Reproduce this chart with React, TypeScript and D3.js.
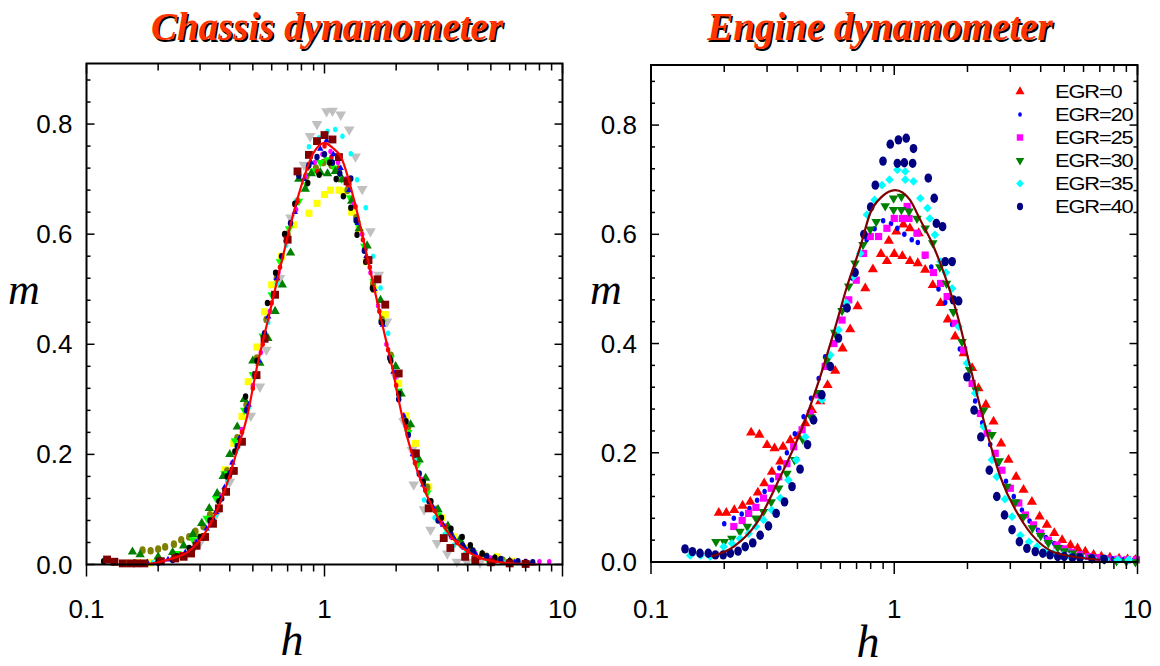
import React from 'react';
import * as d3 from 'd3';

type Pt = [number, number];

// axis ticks and labels
const xTickValues = [0.1, 1, 10];
const xTickLabels = ['0.1', '1', '10'];
const yTickValues = [0, 0.2, 0.4, 0.6, 0.8];
const yTickLabels = ['0.0', '0.2', '0.4', '0.6', '0.8'];
const panelTitles = ['Chassis dynamometer', 'Engine dynamometer'];
const egrLabels = ['EGR=0', 'EGR=20', 'EGR=25', 'EGR=30', 'EGR=35', 'EGR=40'];

// ---- chassis dynamometer: [h, m]
const chassisGray: Pt[] = [[0.3,0.04],[0.35,0.09],[0.4,0.15],[0.44,0.22],[0.49,0.27],[0.535,0.323],[0.57,0.39],[0.65,0.52],[0.72,0.63],[0.82,0.726],[0.87,0.778],[0.93,0.8],[1.02,0.823],[1.08,0.824],[1.17,0.817],[1.27,0.79],[1.35,0.741],[1.44,0.682],[1.56,0.605],[1.69,0.526],[1.83,0.441],[2.0,0.34],[2.15,0.26],[2.33,0.208],[2.37,0.145],[2.62,0.1],[2.79,0.063],[2.97,0.039],[3.28,0.02],[3.6,0.005],[3.97,0.005],[4.5,0.003]];
const chassisYellow: Pt[] = [[0.147,0.002],[0.165,0.003],[0.185,0.003],[0.3,0.05],[0.34,0.09],[0.383,0.172],[0.416,0.22],[0.45,0.269],[0.478,0.332],[0.52,0.395],[0.56,0.459],[0.6,0.508],[0.66,0.56],[0.74,0.617],[0.86,0.638],[0.93,0.656],[1.0,0.672],[1.06,0.68],[1.15,0.68],[1.2,0.678],[1.3,0.64],[1.39,0.608],[1.5,0.55],[1.62,0.5],[1.8,0.454],[2.05,0.329],[2.2,0.27],[2.41,0.22],[2.74,0.141],[3.1,0.085],[3.5,0.05],[4.0,0.03],[4.6,0.018],[5.3,0.014],[6.2,0.006]];
const chassisOlive: Pt[] = [[0.172,0.026],[0.186,0.025],[0.2,0.028],[0.214,0.032],[0.233,0.037],[0.25,0.045],[0.27,0.05],[0.287,0.06],[0.31,0.069],[0.33,0.09],[0.36,0.125],[0.39,0.17],[0.43,0.23],[0.47,0.29],[0.52,0.375],[0.57,0.445],[0.63,0.52],[0.7,0.6],[0.77,0.66],[0.84,0.705],[0.92,0.72],[0.99,0.73],[1.07,0.725],[1.15,0.715],[1.25,0.68],[1.36,0.63],[1.48,0.575],[1.6,0.51],[1.74,0.445],[1.9,0.38],[2.07,0.31],[2.25,0.25],[2.45,0.19],[2.7,0.14],[2.95,0.1],[3.3,0.065],[3.7,0.04],[4.2,0.025],[4.8,0.015],[5.6,0.008]];
const chassisLime: Pt[] = [[0.2,0.008],[0.24,0.02],[0.28,0.045],[0.32,0.084],[0.35,0.12],[0.38,0.165],[0.42,0.225],[0.46,0.28],[0.5,0.345],[0.55,0.415],[0.6,0.49],[0.65,0.55],[0.71,0.61],[0.78,0.66],[0.84,0.69],[0.9,0.715],[0.96,0.73],[1.03,0.735],[1.1,0.72],[1.18,0.7],[1.28,0.666],[1.37,0.62],[1.47,0.578],[1.61,0.514],[1.75,0.44],[1.9,0.375],[2.05,0.315],[2.25,0.24],[2.45,0.18],[2.7,0.13],[3.0,0.09],[3.3,0.06],[3.7,0.038],[4.2,0.022],[4.8,0.012],[5.5,0.007]];
const chassisGreen: Pt[] = [[0.156,0.023],[0.168,0.018],[0.2,0.014],[0.23,0.022],[0.256,0.034],[0.28,0.055],[0.305,0.075],[0.328,0.102],[0.354,0.129],[0.375,0.16],[0.4,0.2],[0.43,0.25],[0.46,0.3],[0.5,0.37],[0.535,0.366],[0.578,0.411],[0.62,0.46],[0.665,0.508],[0.72,0.566],[0.78,0.7],[0.83,0.682],[0.88,0.71],[0.96,0.712],[1.03,0.71],[1.11,0.714],[1.19,0.699],[1.3,0.66],[1.4,0.61],[1.51,0.579],[1.72,0.48],[1.99,0.36],[2.1,0.31],[2.3,0.254],[2.5,0.19],[2.66,0.157],[3.0,0.1],[3.3,0.07],[3.7,0.045],[4.1,0.03],[4.6,0.018],[5.2,0.01],[6.0,0.005]];
const chassisCyan: Pt[] = [[0.14,0.001],[0.19,0.003],[0.23,0.01],[0.27,0.025],[0.31,0.052],[0.35,0.09],[0.39,0.15],[0.43,0.21],[0.48,0.285],[0.53,0.37],[0.58,0.44],[0.63,0.51],[0.69,0.58],[0.76,0.66],[0.86,0.759],[0.95,0.775],[1.03,0.787],[1.11,0.79],[1.19,0.778],[1.29,0.746],[1.37,0.699],[1.49,0.648],[1.6,0.56],[1.72,0.502],[1.85,0.42],[2.0,0.345],[2.2,0.26],[2.4,0.19],[2.62,0.117],[2.9,0.085],[3.2,0.055],[3.5,0.035],[3.9,0.02],[4.4,0.012],[5.0,0.006],[5.8,0.004],[6.8,0.002]];
const chassisMagenta: Pt[] = [[0.17,0.002],[0.21,0.007],[0.25,0.018],[0.29,0.042],[0.33,0.075],[0.37,0.125],[0.41,0.185],[0.45,0.245],[0.5,0.325],[0.54,0.385],[0.59,0.46],[0.64,0.53],[0.7,0.59],[0.76,0.645],[0.83,0.705],[0.91,0.73],[0.98,0.745],[1.06,0.75],[1.14,0.73],[1.23,0.7],[1.33,0.655],[1.44,0.6],[1.56,0.53],[1.68,0.47],[1.82,0.4],[1.98,0.34],[2.15,0.27],[2.35,0.205],[2.55,0.155],[2.8,0.11],[3.1,0.075],[3.4,0.05],[3.8,0.032],[4.3,0.02],[5.0,0.012],[6.0,0.007],[7.0,0.006],[8.0,0.005],[8.8,0.005]];
const chassisRed: Pt[] = [[0.2,0.005],[0.25,0.018],[0.3,0.047],[0.35,0.095],[0.4,0.16],[0.45,0.24],[0.5,0.32],[0.55,0.4],[0.6,0.475],[0.65,0.54],[0.7,0.6],[0.77,0.66],[0.85,0.72],[0.93,0.714],[1.0,0.76],[1.07,0.74],[1.15,0.72],[1.25,0.69],[1.35,0.65],[1.45,0.59],[1.55,0.54],[1.7,0.46],[1.85,0.39],[2.0,0.325],[2.2,0.25],[2.4,0.185],[2.65,0.135],[2.9,0.098],[3.2,0.07],[3.6,0.04],[4.0,0.025],[4.5,0.013],[5.2,0.006],[6.0,0.003]];
const chassisBlue: Pt[] = [[0.15,0.002],[0.18,0.004],[0.22,0.009],[0.26,0.022],[0.29,0.04],[0.32,0.065],[0.35,0.095],[0.38,0.14],[0.41,0.185],[0.44,0.23],[0.48,0.29],[0.53,0.37],[0.58,0.45],[0.63,0.52],[0.69,0.59],[0.75,0.64],[0.82,0.7],[0.88,0.73],[0.96,0.755],[1.02,0.77],[1.09,0.745],[1.17,0.72],[1.27,0.68],[1.38,0.62],[1.5,0.56],[1.62,0.5],[1.76,0.435],[1.95,0.35],[2.15,0.27],[2.35,0.2],[2.6,0.145],[2.85,0.105],[3.15,0.072],[3.5,0.048],[3.9,0.03],[4.3,0.02],[4.8,0.012],[5.5,0.007],[6.3,0.004],[7.2,0.002]];
const chassisNavy: Pt[] = [[0.2,0.003],[0.23,0.008],[0.26,0.018],[0.28,0.028],[0.31,0.05],[0.34,0.08],[0.37,0.12],[0.4,0.165],[0.43,0.215],[0.47,0.28],[0.51,0.345],[0.56,0.42],[0.61,0.49],[0.66,0.56],[0.72,0.62],[0.78,0.706],[0.86,0.725],[0.93,0.74],[1.0,0.745],[1.08,0.73],[1.16,0.71],[1.29,0.701],[1.36,0.625],[1.47,0.57],[1.6,0.5],[1.73,0.44],[1.88,0.375],[2.05,0.3],[2.25,0.235],[2.5,0.165],[2.75,0.115],[3.0,0.08],[3.4,0.055],[3.8,0.035],[4.2,0.025],[4.8,0.015],[5.5,0.01],[6.5,0.006],[7.5,0.004]];
const chassisBlack: Pt[] = [[0.118,0.006],[0.13,0.004],[0.16,0.003],[0.2,0.006],[0.24,0.015],[0.27,0.03],[0.3,0.05],[0.33,0.08],[0.36,0.115],[0.39,0.16],[0.42,0.205],[0.466,0.305],[0.52,0.37],[0.576,0.475],[0.623,0.53],[0.68,0.6],[0.75,0.655],[0.85,0.693],[0.95,0.708],[1.05,0.73],[1.12,0.7],[1.2,0.669],[1.29,0.648],[1.37,0.599],[1.49,0.55],[1.59,0.502],[1.75,0.44],[1.9,0.37],[2.05,0.31],[2.2,0.26],[2.4,0.2],[2.6,0.15],[2.8,0.115],[3.1,0.085],[3.4,0.065],[3.79,0.05],[4.1,0.035],[4.6,0.02],[5.2,0.012],[6.0,0.006],[7.0,0.004]];
const chassisMaroon: Pt[] = [[0.122,0.009],[0.131,0.005],[0.142,0.002],[0.153,0.002],[0.163,0.002],[0.175,0.002],[0.205,0.006],[0.236,0.011],[0.256,0.014],[0.275,0.02],[0.29,0.034],[0.315,0.05],[0.34,0.074],[0.36,0.102],[0.386,0.132],[0.416,0.17],[0.45,0.223],[0.518,0.344],[0.56,0.41],[0.62,0.49],[0.7,0.59],[0.77,0.714],[0.86,0.744],[0.93,0.769],[1.0,0.78],[1.08,0.772],[1.15,0.74],[1.25,0.696],[1.53,0.553],[1.67,0.518],[1.8,0.472],[2.05,0.347],[2.42,0.202],[2.74,0.102],[3.17,0.048],[3.38,0.03],[3.9,0.014],[4.3,0.008],[5.0,0.004],[6.0,0.002],[7.0,0.001]];
const chassisFit: Pt[] = [[0.177,0.0],[0.2,0.004],[0.233,0.012],[0.265,0.022],[0.321,0.063],[0.377,0.129],[0.43,0.208],[0.473,0.269],[0.521,0.36],[0.583,0.45],[0.653,0.541],[0.768,0.663],[0.9,0.748],[0.95,0.761],[1.0,0.766],[1.08,0.757],[1.17,0.741],[1.33,0.663],[1.51,0.56],[1.72,0.45],[1.92,0.36],[2.12,0.269],[2.37,0.19],[2.88,0.099],[3.5,0.045],[4.38,0.014],[5.5,0.004],[7.8,0.0]];

// ---- engine dynamometer: [h, m]
const engineEgr0: Pt[] = [[0.19,0.09],[0.204,0.09],[0.22,0.095],[0.238,0.103],[0.256,0.11],[0.275,0.127],[0.292,0.144],[0.314,0.165],[0.34,0.184],[0.258,0.237],[0.279,0.233],[0.3,0.214],[0.322,0.208],[0.349,0.211],[0.374,0.223],[0.402,0.23],[0.431,0.254],[0.459,0.278],[0.496,0.294],[0.532,0.324],[0.572,0.35],[0.613,0.391],[0.659,0.426],[0.707,0.468],[0.76,0.501],[0.817,0.536],[0.882,0.564],[0.933,0.551],[1.0,0.564],[1.08,0.56],[1.16,0.551],[1.25,0.547],[1.34,0.535],[0.95,0.588],[1.02,0.605],[1.09,0.618],[1.16,0.611],[1.26,0.602],[1.44,0.507],[1.55,0.474],[1.66,0.444],[1.78,0.413],[1.93,0.382],[2.09,0.355],[2.22,0.318],[2.38,0.288],[2.56,0.257],[2.75,0.217],[2.95,0.187],[3.17,0.156],[3.4,0.132],[3.68,0.11],[3.96,0.083],[4.24,0.068],[4.55,0.053],[4.9,0.04],[5.3,0.031],[5.67,0.025],[6.1,0.019],[6.6,0.013],[7.1,0.01],[7.7,0.008],[8.4,0.006],[9.1,0.005],[9.8,0.004]];
const engineEgr20: Pt[] = [[0.2,0.07],[0.219,0.08],[0.236,0.088],[0.254,0.098],[0.273,0.113],[0.293,0.129],[0.314,0.15],[0.337,0.172],[0.362,0.2],[0.39,0.235],[0.424,0.266],[0.455,0.3],[0.489,0.336],[0.52,0.376],[0.565,0.42],[0.619,0.471],[0.67,0.52],[0.72,0.565],[0.77,0.59],[0.83,0.61],[0.9,0.625],[0.97,0.62],[1.03,0.611],[1.1,0.6],[1.18,0.59],[1.25,0.585],[1.33,0.56],[1.42,0.54],[1.52,0.5],[1.62,0.475],[1.73,0.435],[1.86,0.39],[2.0,0.34],[2.15,0.295],[2.3,0.255],[2.48,0.215],[2.67,0.18],[2.88,0.148],[3.1,0.12],[3.35,0.095],[3.6,0.075],[3.9,0.058],[4.2,0.045],[4.55,0.034],[4.9,0.026],[5.3,0.02],[5.8,0.015],[6.4,0.01],[7.1,0.008],[7.9,0.006],[8.8,0.005],[9.7,0.004]];
const engineEgr25: Pt[] = [[0.219,0.065],[0.237,0.076],[0.252,0.089],[0.27,0.1],[0.29,0.117],[0.312,0.135],[0.335,0.156],[0.362,0.18],[0.386,0.211],[0.418,0.242],[0.452,0.272],[0.486,0.306],[0.52,0.358],[0.565,0.4],[0.61,0.443],[0.65,0.48],[0.698,0.516],[0.748,0.565],[0.797,0.596],[0.862,0.596],[0.933,0.611],[1.0,0.629],[1.08,0.629],[1.15,0.629],[1.13,0.651],[1.24,0.602],[1.34,0.562],[1.45,0.53],[1.55,0.51],[1.65,0.486],[1.78,0.437],[1.93,0.388],[2.09,0.327],[2.26,0.272],[2.41,0.236],[2.6,0.199],[2.77,0.168],[3.0,0.135],[3.25,0.108],[3.46,0.086],[3.74,0.068],[4.0,0.053],[4.3,0.04],[4.67,0.031],[5.0,0.024],[5.4,0.018],[5.8,0.013],[6.3,0.01],[6.8,0.008],[7.5,0.006],[8.3,0.005],[9.1,0.004],[9.9,0.004]];
const engineEgr30: Pt[] = [[0.185,0.037],[0.2,0.037],[0.215,0.043],[0.232,0.056],[0.249,0.065],[0.27,0.08],[0.29,0.092],[0.312,0.11],[0.335,0.135],[0.362,0.162],[0.389,0.187],[0.42,0.225],[0.455,0.265],[0.49,0.31],[0.53,0.37],[0.57,0.42],[0.61,0.46],[0.65,0.505],[0.69,0.547],[0.744,0.581],[0.797,0.609],[0.843,0.623],[0.918,0.652],[0.994,0.666],[1.07,0.669],[0.994,0.645],[1.07,0.645],[1.15,0.642],[1.24,0.629],[1.34,0.611],[1.44,0.584],[1.54,0.54],[1.64,0.51],[1.75,0.458],[1.9,0.403],[2.04,0.352],[2.17,0.315],[2.33,0.278],[2.52,0.233],[2.7,0.185],[2.9,0.138],[3.15,0.11],[3.4,0.083],[3.7,0.062],[4.0,0.048],[4.3,0.035],[4.7,0.026],[5.0,0.02],[5.4,0.016],[5.8,0.011],[6.5,0.008],[7.3,0.005],[8.2,0.002],[9.0,0.001],[9.8,0.0]];
const engineEgr35: Pt[] = [[0.145,0.012],[0.16,0.012],[0.175,0.01],[0.199,0.028],[0.215,0.034],[0.232,0.043],[0.252,0.052],[0.27,0.065],[0.29,0.077],[0.314,0.095],[0.34,0.117],[0.367,0.15],[0.396,0.187],[0.431,0.229],[0.466,0.26],[0.504,0.297],[0.546,0.379],[0.59,0.425],[0.635,0.474],[0.68,0.523],[0.725,0.565],[0.772,0.636],[0.83,0.663],[0.89,0.69],[0.956,0.7],[1.03,0.718],[1.11,0.715],[1.11,0.7],[1.2,0.697],[1.28,0.666],[1.37,0.648],[1.4,0.629],[1.47,0.599],[1.55,0.55],[1.63,0.53],[1.73,0.501],[1.84,0.431],[1.99,0.364],[2.15,0.309],[2.33,0.248],[2.52,0.187],[2.64,0.156],[2.85,0.115],[3.05,0.083],[3.3,0.049],[3.58,0.037],[3.86,0.028],[4.2,0.019],[4.5,0.016],[4.9,0.012],[5.3,0.01],[5.9,0.008],[6.6,0.006],[7.4,0.005],[8.3,0.004],[9.2,0.004]];
const engineEgr40: Pt[] = [[0.138,0.024],[0.148,0.019],[0.159,0.016],[0.172,0.016],[0.184,0.013],[0.198,0.013],[0.212,0.016],[0.228,0.02],[0.244,0.028],[0.262,0.035],[0.281,0.049],[0.304,0.066],[0.327,0.089],[0.354,0.11],[0.38,0.138],[0.41,0.17],[0.44,0.215],[0.466,0.26],[0.504,0.306],[0.546,0.358],[0.59,0.41],[0.64,0.465],[0.69,0.53],[0.75,0.6],[0.8,0.65],[0.836,0.69],[0.899,0.734],[0.963,0.765],[1.04,0.773],[1.12,0.776],[1.2,0.757],[1.03,0.73],[1.1,0.731],[1.19,0.73],[1.38,0.703],[1.46,0.666],[1.49,0.62],[1.58,0.614],[1.62,0.55],[1.73,0.55],[1.75,0.48],[1.84,0.478],[1.99,0.339],[2.13,0.278],[2.27,0.229],[2.46,0.168],[2.64,0.12],[2.84,0.086],[3.05,0.059],[3.27,0.037],[3.51,0.025],[3.8,0.019],[4.08,0.016],[4.37,0.013],[4.7,0.01],[5.0,0.01],[5.4,0.008],[5.8,0.008],[6.5,0.006],[7.3,0.005]];
const engineFit: Pt[] = [[0.177,0.01],[0.219,0.028],[0.272,0.071],[0.34,0.156],[0.41,0.236],[0.481,0.321],[0.563,0.419],[0.639,0.504],[0.725,0.577],[0.797,0.639],[0.89,0.669],[1.01,0.681],[1.16,0.663],[1.28,0.626],[1.41,0.59],[1.6,0.529],[1.81,0.455],[2.05,0.358],[2.33,0.26],[2.73,0.156],[3.4,0.071],[4.67,0.016],[7.03,0.004]];

type Series = { data: Pt[]; color: string; shape: string; size: number };

const chassisSeries: Series[] = [
  { data: chassisGray, color: '#c0c0c0', shape: 'down', size: 50 },
  { data: chassisYellow, color: '#ffff00', shape: 'square', size: 50 },
  { data: chassisOlive, color: '#808000', shape: 'ellipse', size: 7 },
  { data: chassisLime, color: '#00ff00', shape: 'down', size: 32 },
  { data: chassisGreen, color: '#008000', shape: 'triangle', size: 38 },
  { data: chassisCyan, color: '#00ffff', shape: 'ellipse', size: 5 },
  { data: chassisMagenta, color: '#ff00ff', shape: 'ellipse', size: 5 },
  { data: chassisRed, color: '#ff0000', shape: 'ellipse', size: 5 },
  { data: chassisBlue, color: '#0000ff', shape: 'triangle', size: 18 },
  { data: chassisNavy, color: '#000080', shape: 'ellipse', size: 6 },
  { data: chassisBlack, color: '#000000', shape: 'ellipse', size: 6 },
  { data: chassisMaroon, color: '#800000', shape: 'square', size: 62 },
];

const engineSeries: Series[] = [
  { data: engineEgr0, color: '#ff0000', shape: 'triangle', size: 45 },
  { data: engineEgr20, color: '#0000ff', shape: 'ellipse', size: 5 },
  { data: engineEgr25, color: '#ff00ff', shape: 'square', size: 52 },
  { data: engineEgr30, color: '#008000', shape: 'down', size: 40 },
  { data: engineEgr35, color: '#00ffff', shape: 'diamond', size: 48 },
  { data: engineEgr40, color: '#000080', shape: 'ellipse', size: 8.5 },
];

const serif = "'Liberation Serif', 'Times New Roman', serif";

function Marker({ shape, size, color, cx, cy }: { shape: string; size: number; color: string; cx: number; cy: number }) {
  if (shape === 'ellipse') {
    return <ellipse cx={cx} cy={cy} rx={size * 0.45} ry={size * 0.55} fill={color} />;
  }
  const type = shape === 'square' ? d3.symbolSquare : shape === 'diamond' ? d3.symbolDiamond2 : d3.symbolTriangle;
  const d = d3.symbol().type(type).size(size)() as string;
  const rot = shape === 'down' ? ' rotate(180)' : '';
  return <path d={d} fill={color} transform={`translate(${cx},${cy})${rot}`} />;
}

type PanelProps = {
  left: number; right: number; top: number; bottom: number;
  series: Series[]; fit: Pt[]; fitColor: string;
  title: string; titleX: number; hX: number; hY: number; mX: number;
  legend?: boolean;
};

function Panel(p: PanelProps) {
  const x = d3.scaleLog().domain([0.1, 10]).range([p.left, p.right]);
  const y = d3.scaleLinear().domain([0, 0.91]).range([p.bottom, p.top]);
  const line = d3.line<Pt>().x(d => x(d[0])).y(d => y(d[1])).curve(d3.curveMonotoneX);
  const logTicks = x.ticks();
  const minorY = d3.range(0, 0.905, 0.04);
  const isMajorX = (v: number) => xTickValues.some(t => Math.abs(t - v) < 1e-9);

  return (
    <g>
      <text x={p.titleX + 1.6} y={41.6} textAnchor="middle" fontFamily={serif} fontStyle="italic" fontWeight="bold" fontSize={39} fill="#000">{p.title}</text>
      <text x={p.titleX} y={40} textAnchor="middle" fontFamily={serif} fontStyle="italic" fontWeight="bold" fontSize={39} fill="#ff3300">{p.title}</text>

      {p.series.map((s, i) => (
        <g key={i}>
          {s.data.map((d, j) => (
            <Marker key={j} shape={s.shape} size={s.size} color={s.color} cx={x(d[0])} cy={y(d[1])} />
          ))}
        </g>
      ))}
      <path d={line(p.fit) as string} fill="none" stroke={p.fitColor} strokeWidth={2.2} />

      <rect x={p.left} y={p.top} width={p.right - p.left} height={p.bottom - p.top} fill="none" stroke="#000" strokeWidth={2} />

      {logTicks.map((v, i) => {
        const major = isMajorX(v);
        const xv = x(v);
        return (
          <g key={i} stroke="#000" strokeWidth={1.5}>
            <line x1={xv} x2={xv} y1={p.bottom} y2={p.bottom + (major ? 12 : 7)} />
            <line x1={xv} x2={xv} y1={p.top} y2={p.top + (major ? 10 : 7)} />
          </g>
        );
      })}
      {minorY.map((v, i) => {
        const major = yTickValues.some(t => Math.abs(t - v) < 1e-6);
        const yv = y(v);
        return (
          <g key={i} stroke="#000" strokeWidth={1.5}>
            <line x1={p.left} x2={p.left + (major ? 8 : 4)} y1={yv} y2={yv} />
            <line x1={p.right} x2={p.right - (major ? 8 : 4)} y1={yv} y2={yv} />
          </g>
        );
      })}

      {xTickValues.map((v, i) => (
        <text key={i} x={x(v)} y={618} textAnchor="middle" fontSize={26}>{xTickLabels[i]}</text>
      ))}
      {yTickValues.map((v, i) => (
        <text key={i} x={p.left - 14} y={y(v)} textAnchor="end" dominantBaseline="central" fontSize={26}>{yTickLabels[i]}</text>
      ))}

      <text x={p.mX} y={304} textAnchor="middle" fontFamily={serif} fontStyle="italic" fontSize={44}>m</text>
      <text x={p.hX} y={p.hY} textAnchor="middle" fontFamily={serif} fontStyle="italic" fontSize={46}>h</text>

      {p.legend && egrLabels.map((lab, i) => {
        const s = p.series[i];
        const ly = 91.5 + i * 23;
        return (
          <g key={lab}>
            <Marker shape={s.shape} size={s.size * 0.8} color={s.color} cx={1020} cy={ly} />
            <text transform={`translate(1055,${ly}) scale(1.15,1)`} dominantBaseline="central" fontSize={19} letterSpacing={-1}>{lab}</text>
          </g>
        );
      })}
    </g>
  );
}

export default function App() {
  return (
    <svg width={1160} height={666} style={{ position: 'absolute', left: 0, top: 0, background: '#fff' }} fontFamily="'Liberation Sans', Arial, sans-serif">
      <Panel left={86.5} right={562.5} top={63.5} bottom={564.5} series={chassisSeries} fit={chassisFit} fitColor="#ff0000"
        title={panelTitles[0]} titleX={327} hX={292} hY={655} mX={24} />
      <Panel left={651} right={1137.5} top={65} bottom={562} series={engineSeries} fit={engineFit} fitColor="#800000"
        title={panelTitles[1]} titleX={880} hX={868} hY={657} mX={606} legend />
    </svg>
  );
}
